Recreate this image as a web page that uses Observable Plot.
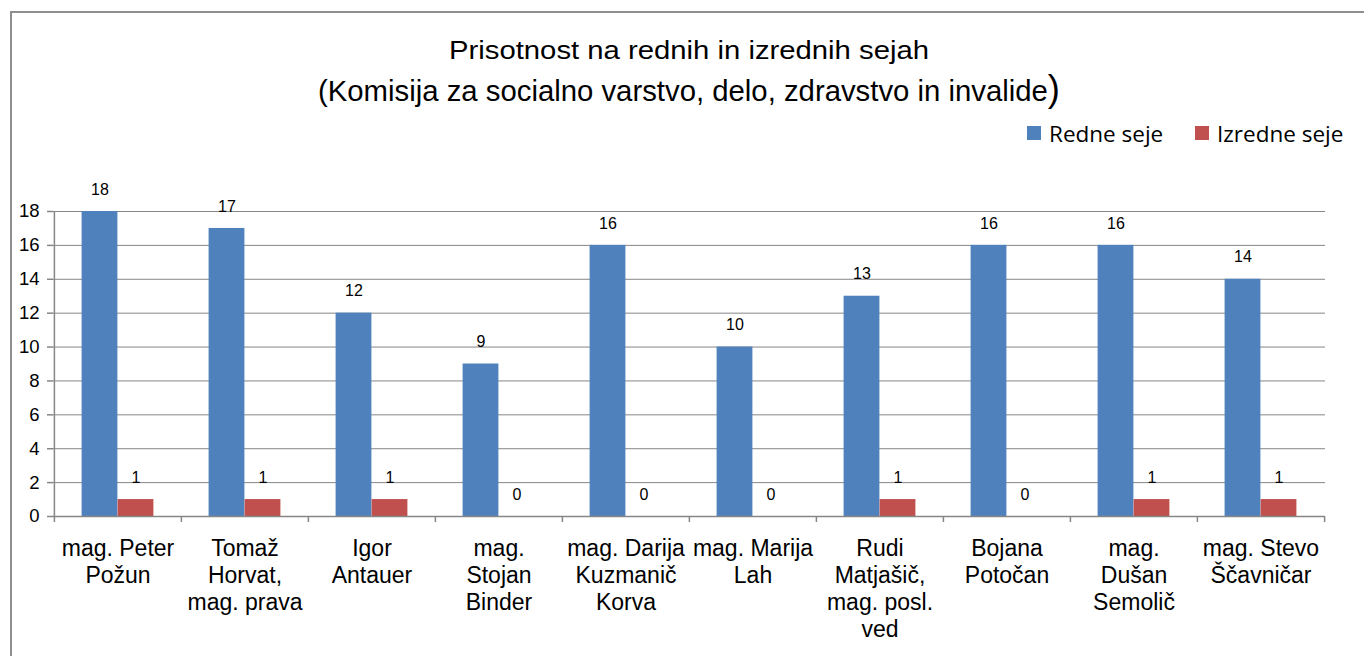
<!DOCTYPE html>
<html>
<head>
<meta charset="utf-8">
<script src="https://cdn.jsdelivr.net/npm/d3@7"></script>
<script src="https://cdn.jsdelivr.net/npm/@observablehq/plot@0.6"></script>
<style>
  html, body { margin: 0; padding: 0; background: #fff; }
  #wrap { position: relative; width: 1364px; height: 656px; overflow: hidden; font-family: "Liberation Sans", Arial, sans-serif; }
  #frame { position: absolute; left: 10px; top: 11px; width: 1400px; height: 700px; border-left: 2px solid #8e8e8e; border-top: 2px solid #8e8e8e; }
  #title { position: absolute; left: 0; top: 0; }
  #legend { position: absolute; top: 118px; left: 1027px; height: 30px; font-family: "Open Sans", sans-serif; font-size: 22.5px; color: #000; white-space: nowrap; }
  .item { position: absolute; top: 0; display: flex; align-items: center; height: 30px; }
  .sw { width: 14px; height: 14px; margin-right: 8px; }
  #chart { position: absolute; left: 0; top: 160px; }
</style>
</head>
<body>
<div id="wrap">
  <div id="frame"></div>
  <svg id="title" width="1364" height="115" font-family="Liberation Sans, Arial, sans-serif" fill="#000">
    <text x="689" y="58.5" text-anchor="middle" font-size="26" textLength="480" lengthAdjust="spacingAndGlyphs">Prisotnost na rednih in izrednih sejah</text>
    <text x="689" y="100.5" text-anchor="middle" font-size="29" textLength="742" lengthAdjust="spacingAndGlyphs">(Komisija za socialno varstvo, delo, zdravstvo in invalide<tspan font-size="36">)</tspan></text>
  </svg>
  <div id="legend"></div>
  <div id="chart"></div>
</div>
<script>
// ---- data ----
const names = [
  "mag. Peter\nPožun",
  "Tomaž\nHorvat,\nmag. prava",
  "Igor\nAntauer",
  "mag.\nStojan\nBinder",
  "mag. Darija\nKuzmanič\nKorva",
  "mag. Marija\nLah",
  "Rudi\nMatjašič,\nmag. posl.\nved",
  "Bojana\nPotočan",
  "mag.\nDušan\nSemolič",
  "mag. Stevo\nŠčavničar"
];
const series = ["Redne seje", "Izredne seje"];
const redne = [18, 17, 12, 9, 16, 10, 13, 16, 16, 14];
const izredne = [1, 1, 1, 0, 0, 0, 1, 0, 1, 1];
const yTicks = [0, 2, 4, 6, 8, 10, 12, 14, 16, 18];
const colors = ["#4F81BD", "#C0504D"];

// ---- layout ----
const W = 1364, H = 496;
const mL = 53, mR = 39, mT = 51, mB = 140;
const bw = (W - mL - mR) / names.length;
const barW = 36;
const gap = (bw - 2 * barW) / 2;
const plotH = H - mT - mB;
const grid = "#868686";

const rowsR = names.map((n, i) => ({name: n, value: redne[i]}));
const rowsI = names.map((n, i) => ({name: n, value: izredne[i]}));

const chart = Plot.plot({
  width: W,
  height: H,
  marginLeft: mL,
  marginRight: mR,
  marginTop: mT,
  marginBottom: mB,
  style: {fontFamily: "Liberation Sans, Arial, sans-serif", background: "transparent", color: "#000"},
  x: {domain: names, padding: 0, axis: null},
  y: {domain: [0, 18], axis: null},
  marks: [
    Plot.gridY(yTicks, {stroke: grid, strokeOpacity: 1, strokeWidth: 1}),
    Plot.barY(rowsR, {x: "name", y: "value", fill: colors[0], insetLeft: gap, insetRight: gap + barW}),
    Plot.barY(rowsI, {x: "name", y: "value", fill: colors[1], insetLeft: gap + barW, insetRight: gap}),
    Plot.text(rowsR, {x: "name", y: "value", text: d => String(d.value), dx: -barW / 2, dy: -22, fontSize: 16, fill: "#000"}),
    Plot.text(rowsI, {x: "name", y: "value", text: d => String(d.value), dx: barW / 2, dy: -22, fontSize: 16, fill: "#000"}),
    Plot.ruleY([0], {stroke: grid, strokeWidth: 1.5}),
    Plot.ruleX([names[0]], {dx: -bw / 2, stroke: grid, strokeWidth: 1.5}),
    Plot.ruleX(names, {dx: -bw / 2, stroke: grid, strokeWidth: 1.5, insetTop: plotH, insetBottom: -6}),
    Plot.ruleX([names[names.length - 1]], {dx: bw / 2, stroke: grid, strokeWidth: 1.5, insetTop: plotH, insetBottom: -6}),
    Plot.axisY(yTicks, {label: null, tickSize: 6, tickPadding: 8, fontSize: 18.5, stroke: grid, strokeWidth: 1.5, fill: "#000", tickFormat: d => String(d)}),
    Plot.axisX({label: null, tickSize: 0, tickPadding: 20, fontSize: 23, lineHeight: 1.18, fill: "#000", tickFormat: d => d})
  ]
});
document.getElementById("chart").appendChild(chart);

// ---- legend ----
const legend = document.getElementById("legend");
const offsets = [0, 168];
series.forEach((s, i) => {
  const it = document.createElement("div");
  it.className = "item";
  it.style.left = offsets[i] + "px";
  const sw = document.createElement("span");
  sw.className = "sw";
  sw.style.background = colors[i];
  const tx = document.createElement("span");
  tx.textContent = s;
  it.appendChild(sw);
  it.appendChild(tx);
  legend.appendChild(it);
});
</script>
</body>
</html>
